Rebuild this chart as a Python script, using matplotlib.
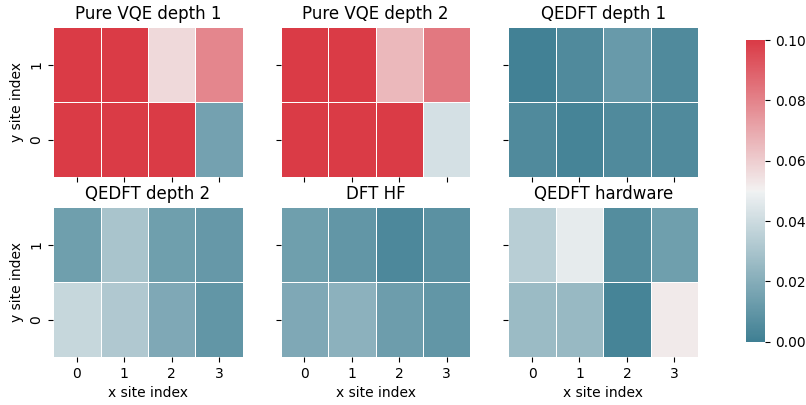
import numpy as np
import matplotlib
matplotlib.use("Agg")
import matplotlib.pyplot as plt
import seaborn as sns

# Site-resolved error on a 2 x 4 lattice (rows: y index 0,1 ; columns: x index 0..3)
x_sites = [0, 1, 2, 3]
y_sites = [0, 1]

vqe_d1 = [[0.10, 0.10, 0.10, 0.015],
          [0.10, 0.10, 0.057, 0.079]]
vqe_d2 = [[0.10, 0.10, 0.10, 0.042],
          [0.10, 0.10, 0.066, 0.083]]
qedft_d1 = [[0.005, 0.002, 0.005, 0.005],
            [0.001, 0.005, 0.012, 0.005]]
qedft_d2 = [[0.038, 0.032, 0.018, 0.010],
            [0.014, 0.030, 0.014, 0.011]]
dft_hf = [[0.018, 0.022, 0.013, 0.010],
          [0.014, 0.010, 0.004, 0.008]]
qedft_hw = [[0.026, 0.025, 0.002, 0.052],
            [0.034, 0.047, 0.006, 0.014]]

titles = ["Pure VQE depth 1", "Pure VQE depth 2", "QEDFT depth 1",
          "QEDFT depth 2", "DFT HF", "QEDFT hardware"]
datos = [vqe_d1, vqe_d2, qedft_d1, qedft_d2, dft_hf, qedft_hw]

cmap = sns.diverging_palette(220, 10, as_cmap=True)

fig, axes = plt.subplots(2, 3, figsize=(8.06, 4.05), dpi=100,
                         sharex=True, sharey=True)
fig.subplots_adjust(left=0.066, right=0.866, top=0.933, bottom=0.118,
                    wspace=0.2, hspace=0.2)
cbar_ax = fig.add_axes([0.9256, 0.156, 0.0236, 0.745])

for k, (ax, d, t) in enumerate(zip(axes.flat, datos, titles)):
    sns.heatmap(np.array(d), ax=ax, cmap=cmap, vmin=0, vmax=0.1,
                linewidths=0.5, linecolor="white",
                xticklabels=x_sites, yticklabels=y_sites,
                cbar=(k == 0), cbar_ax=cbar_ax if k == 0 else None)
    ax.invert_yaxis()
    ax.set_title(t, fontsize=12)
    if k // 3 == 1:
        ax.set_xlabel("x site index")
    if k % 3 == 0:
        ax.set_ylabel("y site index")
    ax.tick_params(axis="x", labelbottom=(k // 3 == 1))
    ax.tick_params(axis="y", labelleft=(k % 3 == 0))

cbar_ax.set_yticks([0, 0.02, 0.04, 0.06, 0.08, 0.10])
cbar_ax.set_yticklabels(["0.00", "0.02", "0.04", "0.06", "0.08", "0.10"])

plt.savefig("out.png")
